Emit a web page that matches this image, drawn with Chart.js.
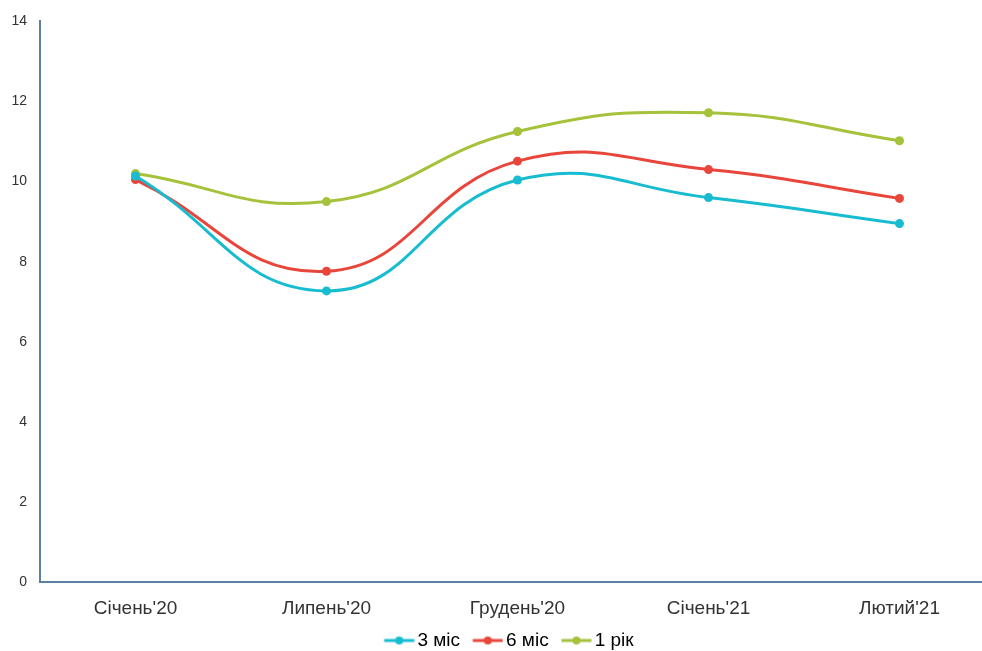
<!DOCTYPE html>
<html>
<head>
<meta charset="utf-8">
<script src="https://cdn.jsdelivr.net/npm/chart.js@4"></script>
<style>
    html, body { margin: 0; padding: 0; background: #fff; overflow: hidden; }
    #wrap { width: 1000px; height: 651px; position: relative; }
</style>
</head>
<body>
<div id="wrap"><canvas id="ratesChart"></canvas></div>
<script>
// Chart data
const months = ["Січень'20", "Липень'20", "Грудень'20", "Січень'21", "Лютий'21"];
const threeMonths = [10.14, 7.27, 10.04, 9.6, 8.95];
const sixMonths = [10.05, 7.76, 10.51, 10.3, 9.58];
const oneYear = [10.2, 9.5, 11.25, 11.72, 11.02];
const yTicks = [0, 2, 4, 6, 8, 10, 12, 14];

const seriesColors = ["#17bcd0", "#e8463b", "#a4c23a"];
const seriesNames = ["3 міс", "6 міс", "1 рік"];

const fontFamily = "Liberation Sans, Arial, sans-serif";

// legend marker: short line with a dot, sitting at the right of a wider transparent image
// (keeps the gaps between marker and text close to the original)
function legendMarker(color) {
    const c = document.createElement("canvas");
    c.width = 50;
    c.height = 10;
    const g = c.getContext("2d");
    g.strokeStyle = color;
    g.lineWidth = 3;
    g.beginPath();
    g.moveTo(19.5, 5);
    g.lineTo(49.5, 5);
    g.stroke();
    g.fillStyle = color;
    g.beginPath();
    g.arc(34.5, 5, 4, 0, Math.PI * 2);
    g.fill();
    return c;
}

function makeSeries(label, data, color) {
    return {
        label: label,
        data: data,
        borderColor: color,
        backgroundColor: color,
        borderWidth: 3,
        pointRadius: 4.5,
        pointHoverRadius: 4.5,
        pointBorderWidth: 0,
        tension: 0.45,
        fill: false
    };
}

const ctx = document.getElementById("ratesChart").getContext("2d");

new Chart(ctx, {
    type: "line",
    data: {
        labels: months,
        datasets: [
            makeSeries(seriesNames[0], threeMonths, seriesColors[0]),
            makeSeries(seriesNames[1], sixMonths, seriesColors[1]),
            makeSeries(seriesNames[2], oneYear, seriesColors[2])
        ]
    },
    options: {
        responsive: true,
        maintainAspectRatio: false,
        animation: false,
        layout: {
            padding: { top: 20, right: 5, left: 10, bottom: -9 }
        },
        plugins: {
            tooltip: { enabled: false },
            legend: {
                position: "bottom",
                labels: {
                    usePointStyle: true,
                    pointStyleWidth: 36.5,
                    color: "#222",
                    font: { family: fontFamily, size: 19 },
                    padding: 0,
                    generateLabels(chart) {
                        return chart.data.datasets.map((ds, i) => ({
                            text: ds.label,
                            pointStyle: legendMarker(ds.borderColor),
                            fillStyle: ds.borderColor,
                            strokeStyle: ds.borderColor,
                            lineWidth: 0,
                            hidden: false,
                            datasetIndex: i
                        }));
                    }
                }
            }
        },
        scales: {
            x: {
                offset: true,
                afterFit(scale) {
                    scale.height = 49;
                },
                grid: { display: false, drawTicks: false },
                border: { display: true, color: "#5b80a2", width: 2 },
                ticks: {
                    color: "#333",
                    font: { family: fontFamily, size: 19 },
                    padding: 15,
                    maxRotation: 0
                }
            },
            y: {
                min: 0,
                max: 14,
                afterBuildTicks(scale) {
                    scale.ticks = yTicks.map(v => ({ value: v }));
                },
                afterFit(scale) {
                    scale.width = 30;
                },
                grid: { display: false, drawTicks: false },
                border: { display: true, color: "#5b80a2", width: 2 },
                ticks: {
                    color: "#333",
                    font: { family: fontFamily, size: 14 },
                    padding: 13
                }
            }
        }
    }
});
</script>
</body>
</html>
